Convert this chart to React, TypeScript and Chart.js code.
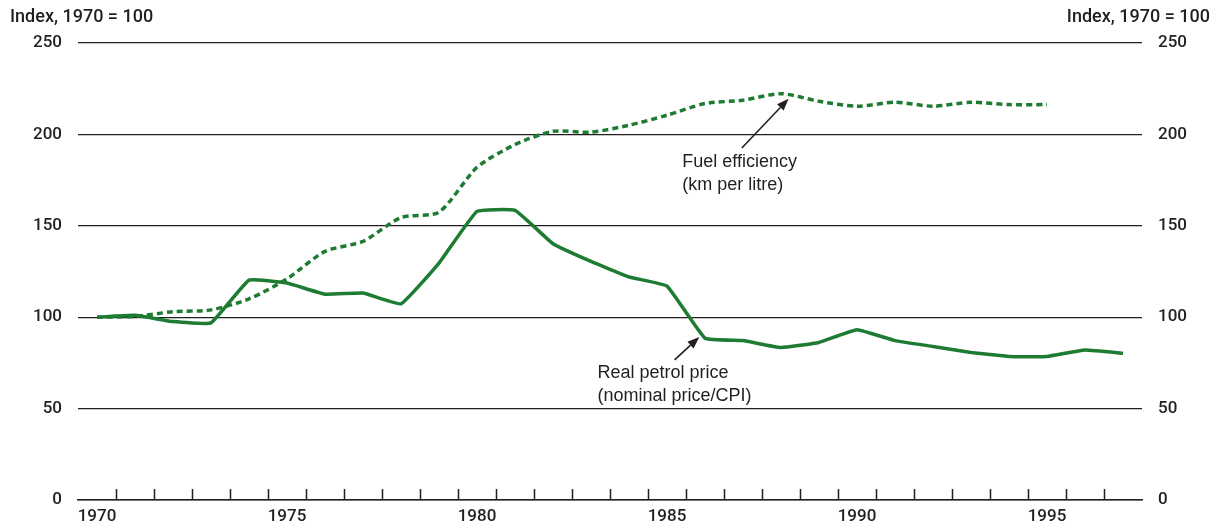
import React, { useEffect, useRef } from 'react';
import { Chart, registerables } from 'chart.js';

Chart.register(...registerables);

const years = [
  '1970', '1971', '1972', '1973', '1974', '1975', '1976', '1977', '1978', '1979',
  '1980', '1981', '1982', '1983', '1984', '1985', '1986', '1987', '1988', '1989',
  '1990', '1991', '1992', '1993', '1994', '1995', '1996', '1997',
];
const xTickLabels = ['1970', '1975', '1980', '1985', '1990', '1995'];
const petrolPrice = [
  100, 101, 97.6, 96.9, 120.3, 118.7, 112.6, 113.2, 107.3, 129.6,
  157.9, 158.4, 140.2, 130.5, 122, 117, 88.5, 87.2, 83.4, 86.2,
  93.1, 87.2, 84, 80.7, 78.5, 78.5, 82.1, 80.3,
];
const fuelEfficiency = [
  100, 100.5, 103, 104, 110, 121, 136, 141.5, 154.5, 157.5,
  182, 194.4, 201.7, 201.2, 205, 210.5, 216.9, 218.7, 222.3, 218.1,
  215.4, 217.6, 215.4, 217.6, 216.3, 216.3, null, null,
];
const yMin = 0;
const yMax = 250;
const yStep = 50;
const axisTitle = 'Index, 1970 = 100';

// annotations: [categoryIndex, value]
const fuelLabelLines = ['Fuel efficiency', '(km per litre)'];
const fuelLabelAt = [15.4, 185];
const fuelArrowTail = [16.97, 192.6];
const fuelArrowTip = [18.2, 219.5];
const petrolLabelLines = ['Real petrol price', '(nominal price/CPI)'];
const petrolLabelAt = [13.17, 69.5];
const petrolArrowTail = [15.2, 76.7];
const petrolArrowTip = [15.85, 89.2];

const GREEN = '#1d7b32';
const INK = '#231f20';
const FONT = '"Liberation Sans", Arial, Helvetica, sans-serif';
const TICK_FONT = 'Roboto, "Liberation Sans", Arial, sans-serif';

function drawArrow(ctx: CanvasRenderingContext2D, x1: number, y1: number, x2: number, y2: number) {
  const ang = Math.atan2(y2 - y1, x2 - x1);
  const head = 12;
  const half = 4.5;
  const bx = x2 - head * Math.cos(ang);
  const by = y2 - head * Math.sin(ang);
  ctx.beginPath();
  ctx.moveTo(x1, y1);
  ctx.lineTo(bx, by);
  ctx.lineWidth = 1.6;
  ctx.strokeStyle = INK;
  ctx.stroke();
  ctx.beginPath();
  ctx.moveTo(x2, y2);
  ctx.lineTo(bx + half * Math.sin(ang), by - half * Math.cos(ang));
  ctx.lineTo(bx - half * Math.sin(ang), by + half * Math.cos(ang));
  ctx.closePath();
  ctx.fillStyle = INK;
  ctx.fill();
}

const decorPlugin = {
  id: 'decor',
  beforeDatasetsDraw(chart: any) {
    const { ctx, scales, chartArea } = chart;
    const x = scales.x;
    ctx.save();
    ctx.strokeStyle = INK;
    ctx.lineWidth = 1.5;
    for (let i = 1; i < years.length; i++) {
      const px = Math.round((x.getPixelForValue(i - 1) + x.getPixelForValue(i)) / 2) + 0.5;
      ctx.beginPath();
      ctx.moveTo(px, chartArea.bottom);
      ctx.lineTo(px, chartArea.bottom - 11);
      ctx.stroke();
    }
    ctx.restore();
  },
  afterDraw(chart: any) {
    const { ctx, scales, chartArea, width } = chart;
    const x = scales.x;
    const y = scales.y;
    const P = (p: number[]) => [x.getPixelForValue(p[0]), y.getPixelForValue(p[1])];
    ctx.save();
    ctx.fillStyle = INK;
    ctx.textBaseline = 'middle';
    ctx.font = `500 18px ${TICK_FONT}`;
    ctx.textAlign = 'left';
    ctx.fillText(axisTitle, 10, chartArea.top - 26);
    ctx.textAlign = 'right';
    ctx.fillText(axisTitle, width - 13, chartArea.top - 26);

    ctx.font = `18px ${FONT}`;
    ctx.textAlign = 'left';
    const fl = P(fuelLabelAt);
    fuelLabelLines.forEach((t, i) => ctx.fillText(t, fl[0], fl[1] + i * 23));
    const pl = P(petrolLabelAt);
    petrolLabelLines.forEach((t, i) => ctx.fillText(t, pl[0], pl[1] + i * 23));

    const ft = P(fuelArrowTail), fh = P(fuelArrowTip);
    drawArrow(ctx, ft[0], ft[1], fh[0], fh[1]);
    const pt = P(petrolArrowTail), ph = P(petrolArrowTip);
    drawArrow(ctx, pt[0], pt[1], ph[0], ph[1]);
    ctx.restore();
  },
};

export default function App() {
  const ref = useRef<HTMLCanvasElement | null>(null);

  useEffect(() => {
    document.body.style.margin = '0';
    const canvas = ref.current;
    if (!canvas) return;
    const tickFont = { family: TICK_FONT, size: 17, weight: '500' as any };
    const chart = new Chart(canvas, {
      type: 'line',
      data: {
        labels: years,
        datasets: [
          {
            label: 'Real petrol price',
            data: petrolPrice,
            borderColor: GREEN,
            borderWidth: 3.5,
            pointRadius: 0,
            tension: 0.1,
            fill: false,
          },
          {
            label: 'Fuel efficiency',
            data: fuelEfficiency,
            borderColor: GREEN,
            borderWidth: 3.5,
            borderDash: [6, 4],
            pointRadius: 0,
            tension: 0.25,
            fill: false,
          },
        ],
      },
      options: {
        responsive: false,
        animation: false,
        devicePixelRatio: 1,
        layout: { padding: { top: 43, left: 0, right: 0, bottom: 0 } },
        plugins: { legend: { display: false }, tooltip: { enabled: false } },
        scales: {
          x: {
            type: 'category',
            offset: true,
            grid: { display: false, drawTicks: false },
            border: { display: true, color: INK, width: 1.5 },
            ticks: {
              autoSkip: false,
              maxRotation: 0,
              padding: 7,
              color: INK,
              font: tickFont,
              callback: (_v: any, i: number) => (xTickLabels.includes(years[i]) ? years[i] : ''),
            },
            afterFit: (s: any) => { s.height = 29; },
          },
          y: {
            position: 'left',
            min: yMin,
            max: yMax,
            grid: { color: INK, lineWidth: 1.2, drawTicks: false },
            border: { display: false },
            ticks: {
              stepSize: yStep,
              padding: 16,
              color: INK,
              font: tickFont,
            },
            afterFit: (s: any) => { s.width = 78; },
          },
          y2: {
            position: 'right',
            min: yMin,
            max: yMax,
            grid: { display: false, drawTicks: false },
            border: { display: false },
            ticks: {
              stepSize: yStep,
              padding: 16,
              color: INK,
              font: tickFont,
            },
            afterFit: (s: any) => { s.width = 81; },
          },
        },
      },
      plugins: [decorPlugin],
    });
    return () => chart.destroy();
  }, []);

  return (
    <div style={{ width: 1223, height: 529 }}>
      <canvas ref={ref} width={1223} height={529} style={{ display: 'block' }} />
    </div>
  );
}
